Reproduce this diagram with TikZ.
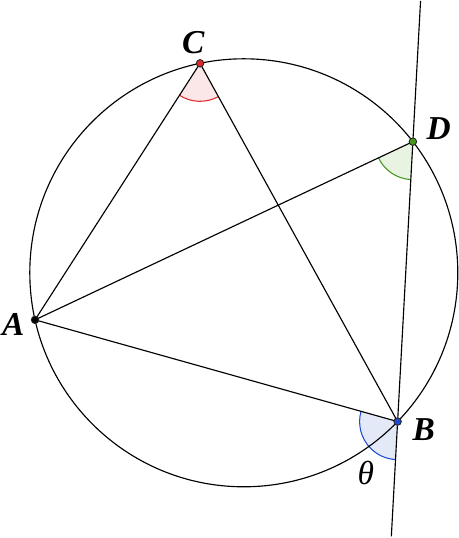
\documentclass[tikz,border=0pt]{standalone}
\usepackage{fontspec}
\setmainfont{Liberation Serif}
\usetikzlibrary{angles,calc}
\definecolor{cred}{RGB}{222,40,40}
\definecolor{cgreen}{RGB}{70,150,30}
\definecolor{cblue}{RGB}{30,75,210}
\definecolor{fred}{RGB}{251,231,231}
\definecolor{fgreen}{RGB}{232,243,225}
\definecolor{fblue}{RGB}{227,233,247}

\begin{document}
\begin{tikzpicture}[
   pt/.style={draw=black!85,line width=0.5pt},
   lbl/.style={font=\fontsize{19}{22}\selectfont\bfseries\itshape},
   angmark/.style={angle radius=0.76cm,line width=0.6pt}]
   \useasboundingbox (-4.876,-5.304) rectangle (4.304,5.456);
   \def\R{4.28}
   \coordinate (O) at (0,0);
   \coordinate (A) at (192.7:\R);
   \coordinate (B) at (315.95:\R);
   \coordinate (C) at (101.8:\R);
   \coordinate (D) at (37.8:\R);
   \coordinate (T) at ($(B)!1.5025!(D)$);
   \coordinate (E) at ($(B)!-0.41!(D)$);
   % angle marks
   \pic[angmark,draw=cred,fill=fred] {angle=A--C--B};
   \pic[angmark,draw=cgreen,fill=fgreen] {angle=A--D--B};
   \pic[angmark,draw=cblue,fill=fblue] {angle=A--B--E};
   % circle and chords
   \draw[line width=0.65pt] (O) circle(\R);
   \draw[line width=0.65pt] (A) -- (C) -- (B) -- cycle;
   \draw[line width=0.65pt] (A) -- (D);
   \draw[line width=0.65pt] (T) -- (E);
   % points
   \filldraw[pt,fill=black] (A) circle(0.075);
   \filldraw[pt,fill=cblue] (B) circle(0.075);
   \filldraw[pt,fill=cred] (C) circle(0.075);
   \filldraw[pt,fill=cgreen] (D) circle(0.075);
   % labels
   \node[lbl] (lA) at (-4.61,-1.04) {A};
   \node[lbl] (lB) at (3.6,-3.13) {B};
   \node[lbl] (lC) at (-1.01,4.6) {C};
   \node[lbl] (lD) at (3.9,2.89) {D};
   \node[font=\fontsize{19}{22}\selectfont\itshape] (th) at (2.44,-4.01) {θ};
\end{tikzpicture}
\end{document}
